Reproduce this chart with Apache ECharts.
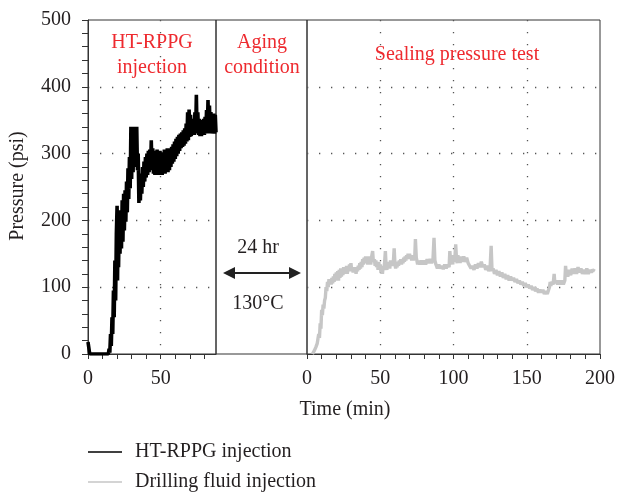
<!DOCTYPE html>
<html>
<head>
<meta charset="utf-8">
<script src="https://cdn.jsdelivr.net/npm/echarts@6/dist/echarts.min.js"></script>
<style>html,body{margin:0;padding:0;background:#fff}#c{width:618px;height:492px}</style>
</head>
<body>
<div id="c"></div>
<script>
// HT-RPPG injection phase: [time (min), pressure (psi)] - noisy record, read as alternating highs/lows
var rppgData = [[0,18],[1,18],[1.2,0],[14,0],[14.5,8],[15,2],[15.5,30],[16,12],[16.5,55],[17,30],[17.5,95],[18,55],[18.5,140],[19,80],[19.5,180],[20,222],[20.3,110],[20.7,200],[21,130],[21.5,205],[22,150],[22.5,215],[23,158],[23.5,230],[24,168],[24.5,240],[25,185],[25.5,245],[26,198],[26.5,258],[27,212],[27.5,278],[28,232],[28.5,295],[29,248],[29.5,340],[30,262],[30.5,340],[31,272],[31.5,340],[32,280],[32.5,340],[33,285],[33.5,340],[34,275],[34.5,300],[35,226],[35.5,268],[36,230],[36.5,270],[37,240],[37.5,280],[38,250],[38.5,288],[39,258],[39.5,295],[40,264],[40.5,300],[41,268],[41.5,304],[42,272],[42.5,306],[43,275],[43.5,320],[44,275],[44.5,308],[45,270],[45.5,304],[46,268],[46.5,302],[47,270],[47.5,306],[48,268],[48.5,302],[49,270],[49.5,304],[50,268],[50.5,300],[51,268],[51.5,302],[52,270],[52.5,306],[53,270],[53.5,302],[54,272],[54.5,308],[55,272],[55.5,304],[56,275],[56.5,308],[57,280],[57.5,310],[58,285],[58.5,314],[59,288],[59.5,318],[60,292],[60.5,322],[61,296],[61.5,325],[62,300],[62.5,328],[63,304],[63.5,330],[64,308],[64.5,332],[65,310],[65.5,335],[66,312],[66.5,338],[67,315],[67.5,345],[68,318],[68.5,362],[69,320],[69.5,366],[70,325],[70.5,358],[71,326],[71.5,350],[72,328],[72.5,352],[73,328],[73.5,362],[74,330],[74.5,388],[75,330],[75.5,362],[76,328],[76.5,352],[77,326],[77.5,350],[78,326],[78.5,350],[79,328],[79.5,352],[80,328],[80.5,355],[81,330],[81.5,365],[82,330],[82.5,380],[83,332],[83.5,372],[84,330],[84.5,362],[85,330],[85.5,358],[86,330],[86.5,360],[87,330],[87.5,358],[88,332]];

// Sealing pressure test (drilling fluid injection): [time (min), pressure (psi)]
var drillingData = [[3.7,0],[4.5,2],[5,5],[5.5,3],[6,10],[6.5,8],[7,16],[7.5,14],[8,30],[8.5,24],[9,46],[9.5,38],[10,66],[10.5,58],[11,74],[11.5,68],[12,80],[12.5,84],[13,100],[13.5,94],[14,108],[14.5,100],[15,112],[15.5,104],[16,110],[16.5,104],[17,114],[17.5,106],[18,116],[18.5,108],[19,120],[19.5,110],[20,122],[20.5,112],[21,124],[21.5,110],[22,126],[22.5,114],[23,128],[23.5,116],[24,128],[24.5,118],[25,130],[25.5,120],[26,130],[26.5,122],[27,132],[27.5,120],[28,128],[28.5,124],[29,134],[29.5,126],[30,136],[30.5,124],[31,130],[31.5,122],[32,130],[32.5,122],[33,128],[33.5,120],[34,130],[34.5,124],[35,132],[35.5,126],[36,136],[36.5,128],[37,138],[37.5,130],[38,142],[38.5,134],[39,144],[39.5,136],[40,146],[40.5,136],[41,142],[41.5,134],[42,146],[42.5,136],[43,142],[43.5,134],[44,144],[44.8,154],[45.3,138],[46,142],[46.5,132],[47,140],[47.5,130],[48,136],[48.5,126],[49,138],[49.5,126],[50,134],[50.5,122],[51,130],[51.5,120],[52,132],[52.5,126],[53,138],[53.5,154],[54,132],[54.5,126],[55,138],[55.5,128],[56,136],[56.5,128],[57,140],[57.5,132],[58,138],[58.5,132],[59,140],[59.5,158],[60,136],[60.5,128],[61,136],[61.5,130],[62,138],[62.5,132],[63,140],[63.5,134],[64,142],[64.5,134],[65,142],[65.5,136],[66,144],[66.5,138],[67,146],[67.5,140],[68,148],[68.5,142],[69,150],[69.5,142],[70,150],[70.5,144],[71,148],[71.5,140],[72,146],[72.5,140],[73,148],[73.5,142],[74,172],[74.6,144],[75,140],[75.5,134],[76,140],[77,134],[78,140],[79,134],[80,140],[81,134],[82,142],[83,136],[84,142],[85,136],[86,142],[86.7,174],[87.3,140],[88,134],[89,128],[90,134],[91,128],[92,132],[93,127],[94,134],[95,128],[96,134],[97,130],[97.5,154],[98,140],[98.5,134],[99,142],[99.5,134],[100,148],[100.5,138],[101,146],[101.5,164],[102,144],[102.5,136],[103,148],[103.5,138],[104,146],[104.5,136],[105,146],[106,138],[107,146],[108,138],[109,144],[110,136],[111,138],[112,128],[113,132],[114,126],[115,134],[116,128],[117,136],[118,130],[119,138],[120,130],[121,134],[122,126],[123,132],[124,124],[125,130],[125.7,162],[126.3,124],[127,128],[128,120],[129,126],[130,118],[131,124],[132,116],[133,122],[134,114],[135,120],[136,112],[137,118],[138,110],[139,116],[140,110],[141,114],[142,108],[143,112],[144,106],[145,110],[146,104],[147,108],[148,102],[149,106],[150,100],[151,104],[152,98],[153,102],[154,96],[155,100],[156,94],[157,98],[158,92],[159,96],[160,92],[161,96],[162,90],[163,94],[164,90],[165,92],[165.5,100],[166,108],[166.5,102],[167,108],[168,104],[168.7,120],[169.2,106],[170,110],[171,104],[172,110],[173,104],[174,110],[175,104],[176,110],[176.5,132],[177,118],[177.5,126],[178,116],[179,126],[180,118],[181,128],[182,120],[183,128],[184,120],[185,130],[186,122],[187,128],[188,120],[189,126],[190,120],[191,128],[192,120],[193,126],[194,122],[195,126],[196.5,124]];

var injTicks = [0,10,20,30,40,50,60,70,80];
var injLabels = [0,50];
var seriesNames = ['HT-RPPG injection', 'Drilling fluid injection'];

var FONT = '"Liberation Serif", "Times New Roman", serif';
var AX = '#333';
var TXT = '#231f20';
var RED = '#ee2a2f';
var dotted = {show:true, showMinLine:false, showMaxLine:false, lineStyle:{color:'#555', width:1.3, type:[1.3,10.7]}};

var chart = echarts.init(document.getElementById('c'), null, {renderer:'canvas'});
chart.setOption({
  animation:false,
  backgroundColor:'#fff',
  grid:[
    {left:88, top:20, width:128, height:334, show:true, borderColor:AX, borderWidth:1, backgroundColor:'transparent'},
    {left:216, top:20, width:91, height:334, show:true, borderColor:AX, borderWidth:1, backgroundColor:'transparent'},
    {left:307, top:20, width:295, height:334, show:true, borderColor:AX, borderWidth:1, backgroundColor:'transparent'}
  ],
  xAxis:[
    {gridIndex:0, type:'value', min:0, max:88, position:'bottom',
     axisLine:{show:true, lineStyle:{color:AX}},
     axisTick:{show:true, customValues:injTicks, length:5, lineStyle:{color:AX}},
     axisLabel:{show:true, customValues:injLabels, margin:15, fontFamily:FONT, fontSize:20, color:TXT},
     splitLine:{show:false}},
    {gridIndex:0, type:'value', min:0, max:88, interval:50, position:'top',
     axisLine:{show:false}, axisTick:{show:false}, axisLabel:{show:false},
     splitLine:dotted},
    {gridIndex:1, type:'value', min:0, max:1, show:false},
    {gridIndex:2, type:'value', min:0, max:200, interval:50, position:'bottom',
     axisLine:{show:true, lineStyle:{color:AX}},
     axisTick:{show:true, length:5, lineStyle:{color:AX}},
     minorTick:{show:true, splitNumber:5, length:5, lineStyle:{color:AX}},
     axisLabel:{show:true, margin:15, fontFamily:FONT, fontSize:20, color:TXT},
     splitLine:dotted}
  ],
  yAxis:[
    {gridIndex:0, type:'value', min:0, max:500, interval:100,
     axisLine:{show:true, lineStyle:{color:AX}},
     axisTick:{show:true, length:6, lineStyle:{color:AX}},
     minorTick:{show:true, splitNumber:5, length:6, lineStyle:{color:AX}},
     axisLabel:{show:true, margin:17, fontFamily:FONT, fontSize:20, color:TXT},
     splitLine:dotted},
    {gridIndex:1, type:'value', min:0, max:500, show:false},
    {gridIndex:2, type:'value', min:0, max:500, interval:100,
     axisLine:{show:false}, axisTick:{show:false}, axisLabel:{show:false},
     splitLine:dotted}
  ],
  legend:{
    orient:'vertical', left:88, top:442, height:60, padding:0, itemWidth:34, itemHeight:14, itemGap:10,
    icon:'path://M0,0 L34,0 L34,1.6 L0,1.6 Z',
    data:seriesNames,
    textStyle:{fontFamily:FONT, fontSize:20, lineHeight:18, color:TXT, padding:[0,0,0,8]},
    itemStyle:{borderWidth:0}
  },
  series:[
    {name:seriesNames[0], type:'line', xAxisIndex:0, yAxisIndex:0, data:rppgData, symbol:'none',
     color:'#000', lineStyle:{color:'#000', width:3.6}, itemStyle:{color:'#000'}},
    {name:seriesNames[1], type:'line', xAxisIndex:3, yAxisIndex:2, data:drillingData, symbol:'none',
     color:'#c6c6c6', lineStyle:{color:'#c6c6c6', width:3.4}, itemStyle:{color:'#c6c6c6'}}
  ],
  graphic:[
    {type:'text', style:{text:'HT-RPPG', x:152, y:43, align:'center', verticalAlign:'middle', font:'20px '+FONT, fill:RED}},
    {type:'text', style:{text:'injection', x:152, y:68, align:'center', verticalAlign:'middle', font:'20px '+FONT, fill:RED}},
    {type:'text', style:{text:'Aging', x:262, y:43, align:'center', verticalAlign:'middle', font:'20px '+FONT, fill:RED}},
    {type:'text', style:{text:'condition', x:262, y:68, align:'center', verticalAlign:'middle', font:'20px '+FONT, fill:RED}},
    {type:'text', style:{text:'Sealing pressure test', x:457, y:55, align:'center', verticalAlign:'middle', font:'20px '+FONT, fill:RED}},
    {type:'text', style:{text:'24 hr', x:258, y:248, align:'center', verticalAlign:'middle', font:'20px '+FONT, fill:TXT}},
    {type:'text', style:{text:'130°C', x:258, y:304, align:'center', verticalAlign:'middle', font:'20px '+FONT, fill:TXT}},
    {type:'line', shape:{x1:230, y1:273, x2:294, y2:273}, style:{stroke:'#222', lineWidth:2}},
    {type:'polygon', shape:{points:[[223,273],[235,267],[235,279]]}, style:{fill:'#222'}},
    {type:'polygon', shape:{points:[[301,273],[289,267],[289,279]]}, style:{fill:'#222'}},
    {type:'text', style:{text:'Time (min)', x:345, y:410, align:'center', verticalAlign:'middle', font:'20px '+FONT, fill:TXT}},
    {type:'text', rotation:Math.PI/2, x:18, y:186, style:{text:'Pressure (psi)', x:0, y:0, align:'center', verticalAlign:'middle', font:'20px '+FONT, fill:TXT}}
  ]
});
</script>
</body>
</html>
